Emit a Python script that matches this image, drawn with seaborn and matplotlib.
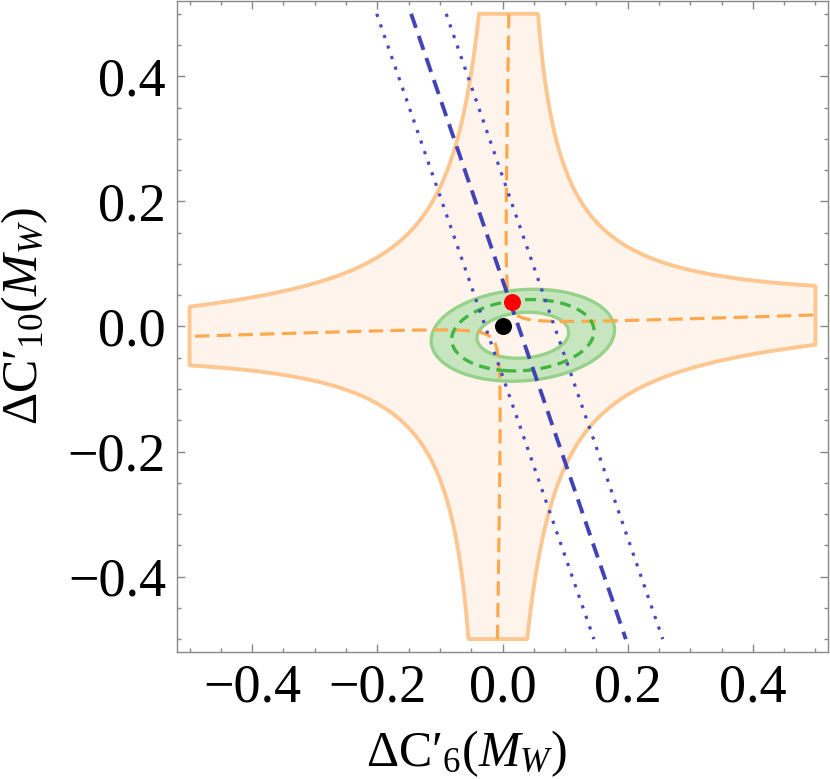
import numpy as np
import pandas as pd
import seaborn as sns
import matplotlib.pyplot as plt
from matplotlib.ticker import MultipleLocator

# --- values ---
# orange cross-shaped region |u*v| <= star_c, with u, v the tilted axes
star_c = 0.0235          # level of the solid boundary
star_eps = 0.00035       # level of the dashed curve
star_box = 0.5           # region is cut at |x|, |y| = 0.5
slope_h, off_h = 0.033, 0.0013     # near-horizontal axis  y = slope_h*x + off_h
slope_v, off_v = 0.0168, 0.001     # near-vertical axis    x = slope_v*y + off_v

# green ring (ellipse levels)
ring_center = (0.0325, -0.014)
ring_axes = (0.0734, 0.0364)
ring_angle = 4.5         # degrees
ring_levels = [1.0, 2.41, 4.0]   # inner edge, dashed, outer edge

# blue lines: x at y = +0.5 and y = -0.5
blue_y = [0.5, -0.5]
blue_mid_x = [-0.146, 0.197]
blue_low_x = [-0.201, 0.146]
blue_high_x = [-0.090, 0.256]

# points
black_pt = ([0.0], [0.0])
red_pt = ([0.0145], [0.0393])

x_ticks = [-0.4, -0.2, 0.0, 0.2, 0.4]
y_ticks = [-0.4, -0.2, 0.0, 0.2, 0.4]
lims = (-0.52, 0.52)

# --- style ---
sns.set_style("ticks")
plt.rcParams['font.family'] = ['Liberation Serif', 'DejaVu Serif']
plt.rcParams['mathtext.fontset'] = 'custom'
plt.rcParams['mathtext.rm'] = 'Liberation Serif'
plt.rcParams['mathtext.it'] = 'Liberation Serif:italic'
plt.rcParams['mathtext.bf'] = 'Liberation Serif:bold'
plt.rcParams['text.color'] = 'black'
plt.rcParams['axes.labelcolor'] = 'black'
plt.rcParams['xtick.labelcolor'] = 'black'
plt.rcParams['ytick.labelcolor'] = 'black'

fig = plt.figure(figsize=(8.3, 7.79), dpi=100)
ax = fig.add_axes([0.2133, 0.1635, 0.7843, 0.8348])

# grid for the regions
g = np.linspace(lims[0], lims[1], 1501)
X, Y = np.meshgrid(g, g)
U = Y - slope_h * X - off_h
V = X - slope_v * Y - off_v
F = U * V
G = np.maximum(np.abs(F) / star_c, np.maximum(np.abs(X), np.abs(Y)) / star_box)

ax.contourf(X, Y, G, levels=[0, 1], colors=['#fff4ec'], zorder=1)
ax.contour(X, Y, G, levels=[1], colors=['#ffc68f'], linewidths=2.8, zorder=2)

# green ring
th = np.deg2rad(ring_angle)
dx, dy = X - ring_center[0], Y - ring_center[1]
xr = dx * np.cos(th) + dy * np.sin(th)
yr = -dx * np.sin(th) + dy * np.cos(th)
Q = (xr / ring_axes[0]) ** 2 + (yr / ring_axes[1]) ** 2
ax.contourf(X, Y, Q, levels=[ring_levels[0], ring_levels[2]], colors=['#c7e6bf'], zorder=3)
ax.contour(X, Y, Q, levels=[ring_levels[0], ring_levels[2]], colors=['#97d28b'],
           linewidths=2.4, zorder=4)

# dashed orange curve only inside the box
inside = (np.abs(X) <= star_box) & (np.abs(Y) <= star_box)
Fm = np.where(inside, F, np.nan)
ax.contour(X, Y, Fm, levels=[star_eps], colors=['#ffa84c'], linewidths=2.3,
           linestyles=[(0, (4.5, 2.3))], zorder=5)

ax.contour(X, Y, Q, levels=[ring_levels[1]], colors=['#42b542'], linewidths=2.4,
           linestyles=[(0, (3.3, 2.0))], zorder=6)

# blue lines
lines = pd.DataFrame({'y': blue_y * 3,
                      'x': blue_mid_x + blue_low_x + blue_high_x,
                      'kind': ['mid'] * 2 + ['low'] * 2 + ['high'] * 2})
sns.lineplot(data=lines[lines.kind == 'mid'], x='x', y='y', sort=False, estimator=None,
             color='#4343b8', lw=2.8, linestyle=(0, (3.8, 2.2)), ax=ax, zorder=7)
for k in ['low', 'high']:
    sns.lineplot(data=lines[lines.kind == k], x='x', y='y', sort=False, estimator=None,
                 color='#4848c4', lw=2.3, linestyle=(0, (1.0, 2.5)), ax=ax, zorder=7)

# points
sns.scatterplot(x=black_pt[0], y=black_pt[1], color='black', s=150, linewidth=0, ax=ax, zorder=8)
sns.scatterplot(x=red_pt[0], y=red_pt[1], color='#ff0000', s=150, linewidth=0, ax=ax, zorder=9)

ax.set_xlim(*lims)
ax.set_ylim(*lims)
ax.set_xticks(x_ticks)
ax.set_yticks(y_ticks)
ax.set_xticklabels([f"{t:.1f}".replace('-', '\u2212') for t in x_ticks])
ax.set_yticklabels([f"{t:.1f}".replace('-', '\u2212') for t in y_ticks])
ax.xaxis.set_minor_locator(MultipleLocator(0.05))
ax.yaxis.set_minor_locator(MultipleLocator(0.05))
ax.tick_params(which='both', direction='in', top=True, right=True, color='#888888', width=1)
ax.tick_params(which='major', length=6, labelsize=39, pad=8)
ax.tick_params(which='minor', length=3)
for s in ax.spines.values():
    s.set_color('#888888')
    s.set_linewidth(1.0)

ax.set_xlabel("\u0394C\u2032$_{6}$($M_W$)", fontsize=36)
ax.set_ylabel("\u0394C\u2032$_{10}$($M_W$)", fontsize=36)
ax.xaxis.set_label_coords(0.445, -0.118)
ax.yaxis.set_label_coords(-0.195, 0.516)

fig.savefig('out.png', dpi=100)
